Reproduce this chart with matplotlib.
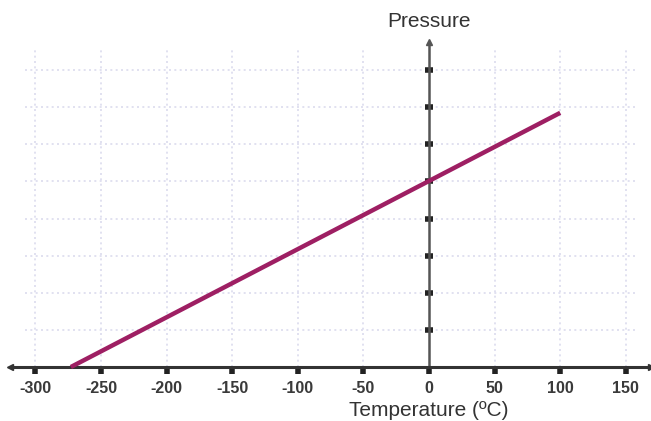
import numpy as np
import matplotlib.pyplot as plt

plt.rcParams['font.family'] = ['Liberation Sans', 'DejaVu Sans']

# chart data
temps = [-273, 100]
pressures = [0, 6.85]
xticks = [-300, -250, -200, -150, -100, -50, 0, 50, 100, 150]
yticks = [1, 2, 3, 4, 5, 6, 7, 8]

axis_col = '#333333'
grid_col = '#dcdcee'
line_col = '#9e1f63'

fig = plt.figure(figsize=(6.51, 4.21), dpi=100)
ax = fig.add_axes([0, 0, 1, 1])
ax.set_xlim(-327, 169.2)
ax.set_ylim(-1.455, 9.89)

# grid
gx = [x for x in xticks if x != 0]
ax.vlines(gx, 0, 8.54, colors=grid_col, linestyles=(0, (1.2, 2)), lw=1.2, zorder=1)
ax.hlines(yticks, -308, 159, colors=grid_col, linestyles=(0, (1.2, 2)), lw=1.2, zorder=1)

# axes
for s in ['top', 'right']:
    ax.spines[s].set_visible(False)
ax.spines['bottom'].set_position(('data', 0))
ax.spines['left'].set_position(('data', 0))
ax.spines['bottom'].set_bounds(-318, 168)
ax.spines['left'].set_bounds(0, 8.7)
ax.spines['bottom'].set_color(axis_col)
ax.spines['bottom'].set_linewidth(2.2)
ax.spines['left'].set_color('#555555')
ax.spines['left'].set_linewidth(1.8)
ax.plot([-319], [0], marker='<', ms=5, color=axis_col, clip_on=False, zorder=5)
ax.plot([169], [0], marker='>', ms=5, color=axis_col, clip_on=False, zorder=5)
ax.plot([0], [8.76], marker='^', ms=4, color='#555555', clip_on=False, zorder=5)

ax.set_xticks(xticks)
ax.set_xticklabels([str(x) for x in xticks], fontsize=11.5, fontweight='bold', color='#3a3a3a')
ax.tick_params(axis='x', direction='out', length=5, width=4, color='#222222', pad=5)
ax.set_yticks(yticks)
ax.set_yticklabels([])
ax.tick_params(axis='y', direction='inout', length=6, width=4, color='#222222')

ax.plot(temps, pressures, color=line_col, lw=3.2, solid_capstyle='butt', zorder=4)

ax.text(0, 9.3, 'Pressure', ha='center', va='center', fontsize=15, color=axis_col)
ax.text(0, -1.16, 'Temperature (ºC)', ha='center', va='center', fontsize=15, color=axis_col)

fig.savefig('out.png', dpi=100)
